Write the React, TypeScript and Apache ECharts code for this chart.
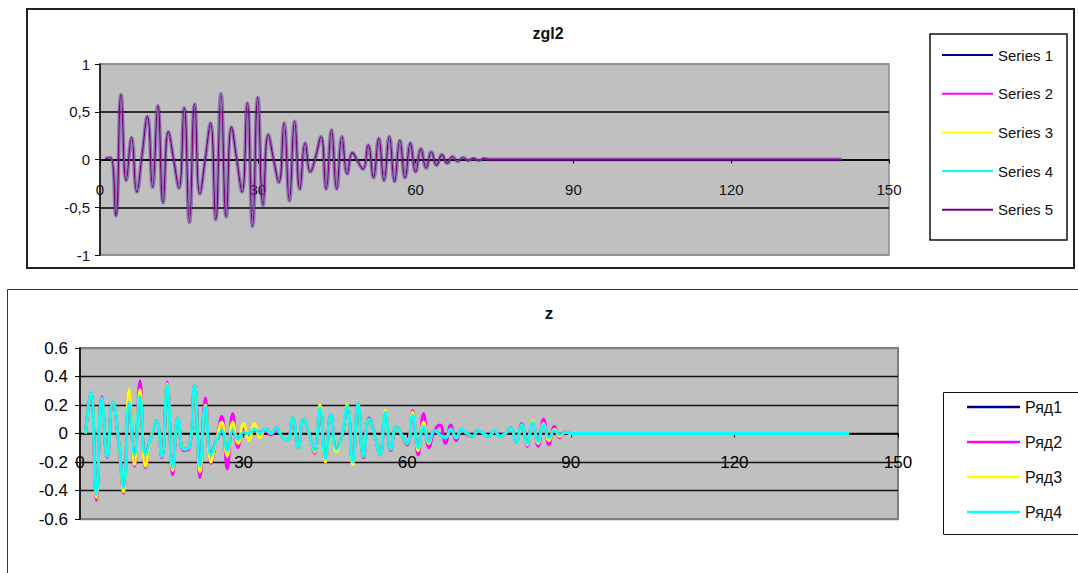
import { useEffect, useRef } from "react";
import * as echarts from "echarts";

// ---- upper chart "zgl2": five identical series, x = 1..141 ----
const topNames = ["Series 1", "Series 2", "Series 3", "Series 4", "Series 5"];
const topColors = ["#000080", "#ff00ff", "#ffff00", "#00ffff", "#800080"];
const zgl2Values = [
  0.01, 0.02, -0.59, 0.68, -0.22, 0.23, -0.34, 0.05, 0.45, -0.29,
  0.56, -0.45, 0.29, 0.0, -0.30, 0.54, -0.66, 0.58, -0.36, 0.0,
  0.38, -0.63, 0.69, -0.60, 0.34, 0.0, -0.34, 0.59, -0.70, 0.65,
  -0.48, 0.26, 0.0, -0.24, 0.38, -0.43, 0.40, -0.31, 0.17, -0.13,
  0.03, 0.24, -0.31, 0.31, -0.31, 0.24, -0.15, 0.07, -0.02, -0.10,
  0.15, -0.19, 0.22, -0.22, 0.24, -0.23, 0.20, -0.19, 0.17, -0.13,
  0.11, -0.09, 0.08, -0.06, 0.05, -0.04, 0.03, -0.02, 0.02, -0.01,
  0.01, -0.01, 0.01, 0, 0, 0, 0, 0, 0, 0,
  0, 0, 0, 0, 0, 0, 0, 0, 0, 0,
  0, 0, 0, 0, 0, 0, 0, 0, 0, 0,
  0, 0, 0, 0, 0, 0, 0, 0, 0, 0,
  0, 0, 0, 0, 0, 0, 0, 0, 0, 0,
  0, 0, 0, 0, 0, 0, 0, 0, 0, 0,
  0, 0, 0, 0, 0, 0, 0, 0, 0, 0,
  0,
];

// ---- lower chart "z": four series, x = 1..141 ----
const bottomNames = ["Ряд1", "Ряд2", "Ряд3", "Ряд4"];
const bottomColors = ["#000080", "#ff00ff", "#ffff00", "#00ffff"];
const ryad1 = [
  0, 0.29, -0.43, 0.25, -0.16, 0.22, -0.02, -0.38, 0.22, -0.15,
  0.26, -0.15, -0.03, 0.09, -0.16, 0.34, -0.24, 0.11, -0.11, -0.10,
  0.34, -0.23, 0.19, -0.15, -0.05, 0.02, -0.12, 0.02, -0.04, 0.01,
  0, 0.03, 0, 0.03, 0, 0.04, -0.02, -0.05, 0.11, -0.10,
  0.10, 0.0, -0.12, 0.18, -0.18, 0.13, -0.11, -0.02, 0.19, -0.20,
  0.21, -0.16, 0.10, 0.0, -0.15, 0.15, -0.11, 0.05, -0.01, -0.07,
  0.13, -0.10, 0.05, -0.06, 0.02, -0.01, -0.03, 0.03, -0.03, 0.03,
  0, -0.02, 0.02, 0, -0.02, 0.02, -0.02, 0, 0.04, -0.06,
  0.06, -0.07, 0.08, -0.06, 0.06, -0.03, 0.02, -0.01, 0.01, 0,
  0, 0, 0, 0, 0, 0, 0, 0, 0, 0,
  0, 0, 0, 0, 0, 0, 0, 0, 0, 0,
  0, 0, 0, 0, 0, 0, 0, 0, 0, 0,
  0, 0, 0, 0, 0, 0, 0, 0, 0, 0,
  0, 0, 0, 0, 0, 0, 0, 0, 0, 0,
  0,
];
const ryad2 = [
  0, 0.29, -0.47, 0.26, -0.17, 0.22, -0.03, -0.42, 0.30, -0.23,
  0.37, -0.24, -0.03, 0.09, -0.17, 0.36, -0.29, 0.11, -0.12, -0.11,
  0.34, -0.31, 0.25, -0.21, -0.05, 0.12, -0.25, 0.14, -0.10, 0.03,
  -0.01, 0.02, -0.02, 0.02, -0.01, 0.03, -0.02, -0.05, 0.10, -0.10,
  0.09, 0.0, -0.14, 0.19, -0.20, 0.13, -0.11, -0.02, 0.19, -0.21,
  0.20, -0.17, 0.11, 0.0, -0.15, 0.15, -0.12, 0.05, -0.01, -0.08,
  0.16, -0.15, 0.14, -0.10, 0.02, 0.06, -0.07, 0.06, -0.05, 0.03,
  -0.01, -0.02, 0.02, 0, -0.02, 0.02, -0.02, 0, 0.04, -0.06,
  0.07, -0.09, 0.09, -0.09, 0.10, -0.08, 0.05, -0.03, 0.01, 0,
  0, 0, 0, 0, 0, 0, 0, 0, 0, 0,
  0, 0, 0, 0, 0, 0, 0, 0, 0, 0,
  0, 0, 0, 0, 0, 0, 0, 0, 0, 0,
  0, 0, 0, 0, 0, 0, 0, 0, 0, 0,
  0, 0, 0, 0, 0, 0, 0, 0, 0, 0,
  0,
];
const ryad3 = [
  0, 0.29, -0.45, 0.25, -0.16, 0.22, -0.02, -0.41, 0.31, -0.22,
  0.31, -0.23, -0.03, 0.09, -0.16, 0.35, -0.26, 0.11, -0.11, -0.10,
  0.34, -0.27, 0.20, -0.20, -0.05, 0.08, -0.16, 0.08, -0.07, 0.07,
  -0.05, 0.07, -0.03, 0.03, 0, 0.04, -0.02, -0.05, 0.11, -0.10,
  0.10, 0.0, -0.13, 0.20, -0.20, 0.13, -0.13, -0.02, 0.20, -0.22,
  0.21, -0.16, 0.10, 0.0, -0.15, 0.16, -0.11, 0.05, -0.01, -0.07,
  0.15, -0.12, 0.08, -0.07, 0.02, -0.01, -0.03, 0.03, -0.03, 0.03,
  0, -0.02, 0.02, 0, -0.02, 0.02, -0.02, 0, 0.04, -0.06,
  0.06, -0.08, 0.09, -0.07, 0.07, -0.05, 0.03, -0.02, 0.01, 0,
  0, 0, 0, 0, 0, 0, 0, 0, 0, 0,
  0, 0, 0, 0, 0, 0, 0, 0, 0, 0,
  0, 0, 0, 0, 0, 0, 0, 0, 0, 0,
  0, 0, 0, 0, 0, 0, 0, 0, 0, 0,
  0, 0, 0, 0, 0, 0, 0, 0, 0, 0,
  0,
];
const ryad4 = [
  0, 0.29, -0.43, 0.25, -0.16, 0.22, -0.02, -0.38, 0.22, -0.15,
  0.26, -0.15, -0.03, 0.09, -0.16, 0.34, -0.24, 0.11, -0.11, -0.10,
  0.34, -0.23, 0.19, -0.15, -0.05, 0.02, -0.12, 0.02, -0.04, 0.01,
  0, 0.03, 0, 0.03, 0, 0.04, -0.02, -0.05, 0.11, -0.10,
  0.10, 0.0, -0.12, 0.18, -0.18, 0.13, -0.11, -0.02, 0.19, -0.20,
  0.21, -0.16, 0.10, 0.0, -0.15, 0.15, -0.11, 0.05, -0.01, -0.07,
  0.13, -0.10, 0.05, -0.06, 0.02, -0.01, -0.03, 0.03, -0.03, 0.03,
  0, -0.02, 0.02, 0, -0.02, 0.02, -0.02, 0, 0.04, -0.06,
  0.06, -0.07, 0.08, -0.06, 0.06, -0.03, 0.02, -0.01, 0.01, 0,
  0, 0, 0, 0, 0, 0, 0, 0, 0, 0,
  0, 0, 0, 0, 0, 0, 0, 0, 0, 0,
  0, 0, 0, 0, 0, 0, 0, 0, 0, 0,
  0, 0, 0, 0, 0, 0, 0, 0, 0, 0,
  0, 0, 0, 0, 0, 0, 0, 0, 0, 0,
  0,
];
const bottomValues = [ryad1, ryad2, ryad3, ryad4];

const FONT = '"Liberation Sans", Arial, sans-serif';

// plot rectangles of the two charts
const TOP_GRID = { left: 100, top: 64, width: 789, height: 191 };
const BOTTOM_GRID = { left: 80, top: 348, width: 818, height: 171 };

const toPairs = (vals: number[]) => vals.map((v, i) => [i + 1, v]);

// stroke of each upper-chart series; the first two are wide and translucent,
// the purple one sits on top as a thin core
const topLineStyles = [
  { width: 3.8, opacity: 0.3 },
  { width: 2.8, opacity: 0.25 },
  { width: 1.1, opacity: 1 },
  { width: 1.1, opacity: 1 },
  { width: 1.4, opacity: 1 },
];

export default function App() {
  const ref = useRef<HTMLDivElement>(null);

  useEffect(() => {
    if (!ref.current) return;
    const chart = echarts.init(ref.current, undefined, { renderer: "svg" });

    const topSeries = topNames.map((name, i) => ({
      name,
      type: "line",
      xAxisIndex: 0,
      yAxisIndex: 0,
      data: toPairs(zgl2Values),
      smooth: 0.5,
      showSymbol: false,
      symbol: "none",
      itemStyle: { color: topColors[i] },
      lineStyle: { color: topColors[i], ...topLineStyles[i] },
      z: 2 + i,
    }));

    const bottomSeries = bottomNames.map((name, i) => ({
      name,
      type: "line",
      xAxisIndex: 1,
      yAxisIndex: 1,
      data: toPairs(bottomValues[i]),
      smooth: 0.5,
      showSymbol: false,
      symbol: "none",
      itemStyle: { color: bottomColors[i] },
      lineStyle: { color: bottomColors[i], width: 2.8 },
      z: 2 + i,
    }));

    const commaLabel = (v: number) => String(v).replace(".", ",");
    const dotLabel = (v: number) => (Math.abs(v) < 1e-9 ? "0" : v.toFixed(1));

    // the x axis runs along y = 0, i.e. the middle of each plot
    const topAxisOffset = -TOP_GRID.height / 2;
    const bottomAxisOffset = -BOTTOM_GRID.height / 2;

    chart.setOption({
      animation: false,
      backgroundColor: "#ffffff",
      graphic: [
        {
          type: "rect",
          shape: { x: 27, y: 9, width: 1047, height: 259 },
          style: { fill: "none", stroke: "#222", lineWidth: 2 },
          silent: true,
        },
        {
          type: "rect",
          shape: { x: 930, y: 34, width: 137, height: 206 },
          style: { fill: "none", stroke: "#111", lineWidth: 1.5 },
          silent: true,
        },
        {
          type: "text",
          x: 548,
          y: 33,
          style: {
            text: "zgl2",
            font: `bold 16px ${FONT}`,
            fill: "#111",
            textAlign: "center",
            textVerticalAlign: "middle",
          },
        },
        {
          type: "rect",
          shape: { x: 7.5, y: 289.5, width: 1100, height: 320 },
          style: { fill: "none", stroke: "#333", lineWidth: 1 },
          silent: true,
        },
        {
          type: "rect",
          shape: { x: 943.5, y: 392.5, width: 200, height: 142 },
          style: { fill: "none", stroke: "#111", lineWidth: 1 },
          silent: true,
        },
        {
          type: "text",
          x: 549,
          y: 313,
          style: {
            text: "z",
            font: `bold 17px ${FONT}`,
            fill: "#111",
            textAlign: "center",
            textVerticalAlign: "middle",
          },
        },
      ],
      legend: [
        {
          orient: "vertical",
          left: 937,
          top: 42,
          itemWidth: 51,
          itemHeight: 2,
          itemGap: 22.7,
          icon: "rect",
          selectedMode: false,
          textStyle: { fontFamily: FONT, fontSize: 15, color: "#111", lineHeight: 16 },
          data: topNames.map((name, i) => ({
            name,
            itemStyle: { color: topColors[i], opacity: 1 },
          })),
        },
        {
          orient: "vertical",
          left: 962,
          top: 393,
          itemWidth: 53,
          itemHeight: 2.5,
          itemGap: 17,
          icon: "rect",
          selectedMode: false,
          textStyle: { fontFamily: FONT, fontSize: 16, color: "#111", lineHeight: 18 },
          data: bottomNames,
        },
      ],
      grid: [
        {
          ...TOP_GRID,
          show: true,
          backgroundColor: "#c0c0c0",
          borderColor: "#8c8c8c",
          borderWidth: 1.5,
        },
        {
          ...BOTTOM_GRID,
          show: true,
          backgroundColor: "#c0c0c0",
          borderColor: "#808080",
          borderWidth: 2,
        },
      ],
      xAxis: [
        {
          type: "value",
          gridIndex: 0,
          min: 0,
          max: 150,
          interval: 30,
          offset: topAxisOffset,
          axisLine: { show: true, onZero: false, lineStyle: { color: "#000", width: 1.5 } },
          axisTick: { show: true, length: 4, lineStyle: { color: "#000" } },
          axisLabel: { margin: 22, fontFamily: FONT, fontSize: 15, color: "#111" },
          splitLine: { show: false },
        },
        {
          type: "value",
          gridIndex: 1,
          min: 0,
          max: 150,
          interval: 30,
          offset: bottomAxisOffset,
          axisLine: { show: true, onZero: false, lineStyle: { color: "#000", width: 1.5 } },
          axisTick: { show: true, length: 4, lineStyle: { color: "#000" } },
          axisLabel: { margin: 20, fontFamily: FONT, fontSize: 17, color: "#000" },
          splitLine: { show: false },
        },
      ],
      yAxis: [
        {
          type: "value",
          gridIndex: 0,
          min: -1,
          max: 1,
          interval: 0.5,
          axisLine: { show: true, onZero: false, lineStyle: { color: "#000", width: 1.5 } },
          axisTick: { show: true, length: 5, lineStyle: { color: "#000" } },
          axisLabel: {
            margin: 10,
            fontFamily: FONT,
            fontSize: 15,
            color: "#111",
            formatter: commaLabel,
          },
          splitLine: {
            show: true,
            lineStyle: {
              color: ["#8c8c8c", "#000", "#000", "#000", "#8c8c8c"],
              width: 1.5,
            },
          },
        },
        {
          type: "value",
          gridIndex: 1,
          min: -0.6,
          max: 0.6,
          interval: 0.2,
          axisLine: { show: true, onZero: false, lineStyle: { color: "#000", width: 1.5 } },
          axisTick: { show: true, length: 5, lineStyle: { color: "#000" } },
          axisLabel: {
            margin: 12,
            fontFamily: FONT,
            fontSize: 17,
            color: "#000",
            formatter: dotLabel,
          },
          splitLine: {
            show: true,
            lineStyle: {
              color: ["#808080", "#111", "#111", "#111", "#111", "#111", "#808080"],
              width: 1.3,
            },
          },
        },
      ],
      series: [...topSeries, ...bottomSeries],
    });

    return () => chart.dispose();
  }, []);

  return (
    <div
      ref={ref}
      style={{ position: "absolute", left: 0, top: 0, width: 1078, height: 573 }}
    />
  );
}
